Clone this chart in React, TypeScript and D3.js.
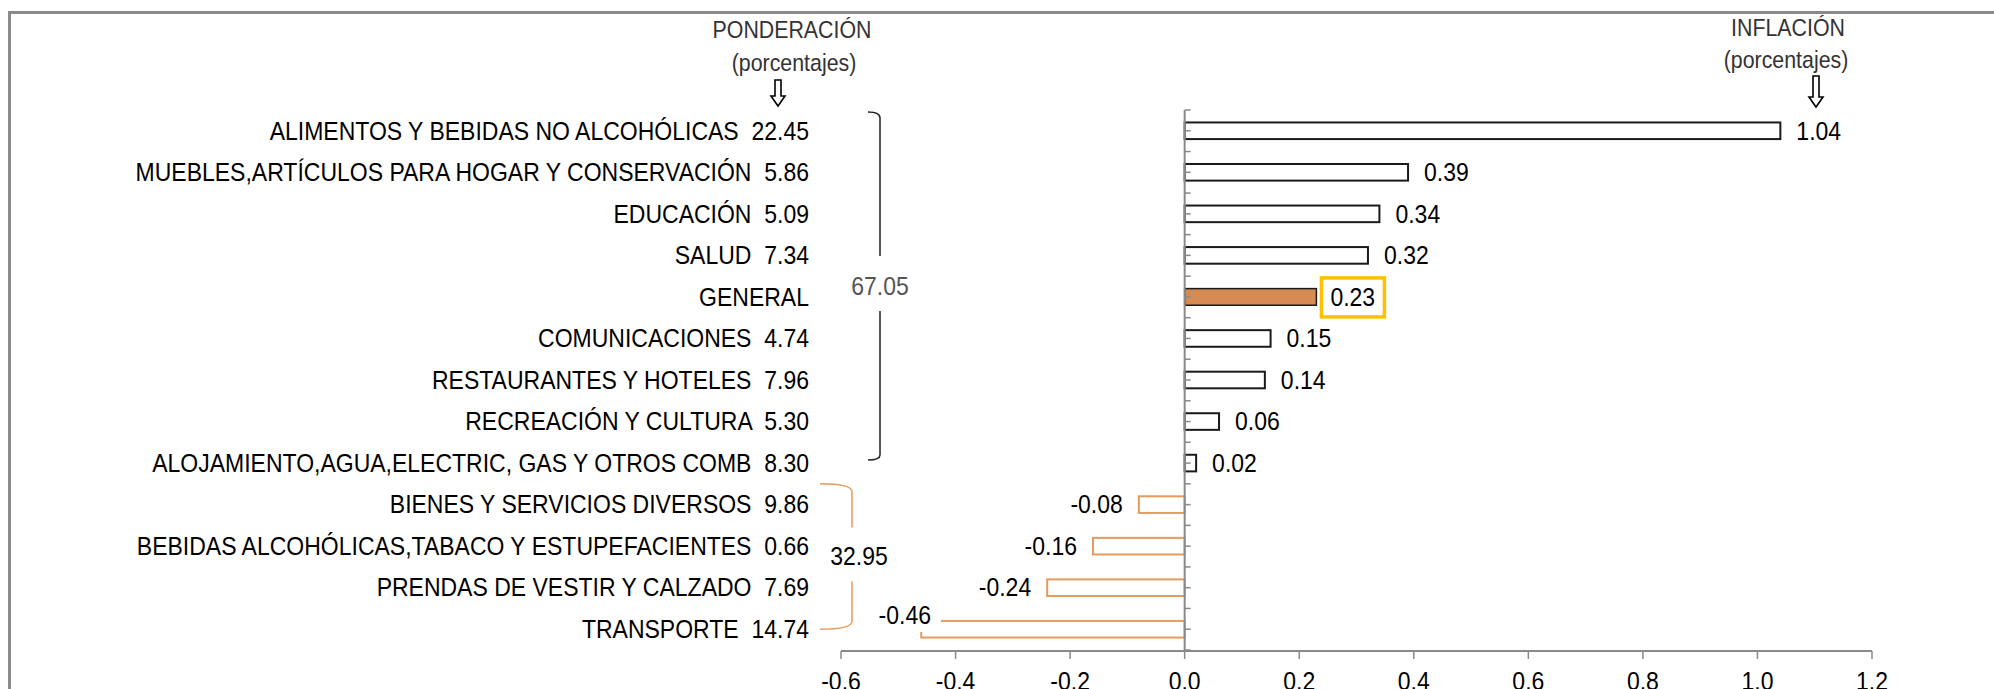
import React from "react";
import * as d3 from "d3";

const categories = [
  "ALIMENTOS Y BEBIDAS NO ALCOHÓLICAS",
  "MUEBLES,ARTÍCULOS PARA HOGAR Y CONSERVACIÓN",
  "EDUCACIÓN",
  "SALUD",
  "GENERAL",
  "COMUNICACIONES",
  "RESTAURANTES Y HOTELES",
  "RECREACIÓN Y CULTURA",
  "ALOJAMIENTO,AGUA,ELECTRIC, GAS Y OTROS COMB",
  "BIENES Y SERVICIOS DIVERSOS",
  "BEBIDAS ALCOHÓLICAS,TABACO Y ESTUPEFACIENTES",
  "PRENDAS DE VESTIR Y CALZADO",
  "TRANSPORTE",
];
const weights: (number | null)[] = [22.45, 5.86, 5.09, 7.34, null, 4.74, 7.96, 5.3, 8.3, 9.86, 0.66, 7.69, 14.74];
const inflation = [1.04, 0.39, 0.34, 0.32, 0.23, 0.15, 0.14, 0.06, 0.02, -0.08, -0.16, -0.24, -0.46];
const groupTotals = [67.05, 32.95];
const xTicks = [-0.6, -0.4, -0.2, 0.0, 0.2, 0.4, 0.6, 0.8, 1.0, 1.2];
const highlight = "GENERAL";

const FONT = "'Liberation Sans', Arial, sans-serif";
const W = 1994;
const H = 689;

type NTProps = {
  x: number;
  y: number;
  anchor?: "start" | "middle" | "end";
  size?: number;
  sx?: number;
  fill?: string;
  dy?: string;
  children: React.ReactNode;
};

function NText({ x, y, anchor = "start", size = 25, sx = 0.92, fill = "#000", dy = "0.35em", children }: NTProps) {
  return (
    <text
      transform={`translate(${x},${y}) scale(${sx},1)`}
      dy={dy}
      textAnchor={anchor}
      fontSize={size}
      fill={fill}
      style={{ whiteSpace: "pre" }}
    >
      {children}
    </text>
  );
}

export default function App() {
  const x = d3.scaleLinear().domain([-0.6, 1.2]).range([841, 1872]);
  const y = d3.scaleBand<string>().domain(categories).range([110, 650]).paddingInner(0.6).paddingOuter(0.3);
  const step = y.step();
  const bw = y.bandwidth();
  const slotTop = (c: string) => (y(c) as number) - (step - bw) / 2;
  const mid = (c: string) => (y(c) as number) + bw / 2;
  const x0 = x(0);
  const axisY = 651;

  const halfTicks: number[] = [];
  categories.forEach((c) => {
    halfTicks.push(slotTop(c));
    halfTicks.push(mid(c));
  });
  halfTicks.push(slotTop(categories[categories.length - 1]) + step);

  const bTop = slotTop(categories[0]) + 2;
  const bBot = mid(categories[8]) - 3;
  const bX = 880;
  const bMid = (bTop + bBot) / 2;
  const oTop = slotTop(categories[9]);
  const oBot = mid(categories[12]);
  const oX = 852;
  const oMid = (oTop + oBot) / 2;

  const arrow = (cx: number, top: number, bottom: number) => {
    const headH = 10;
    const sw = 3;
    const hw = 7;
    const s = bottom - headH;
    return `M${cx - sw},${top} L${cx + sw},${top} L${cx + sw},${s} L${cx + hw},${s} L${cx},${bottom} L${cx - hw},${s} L${cx - sw},${s} Z`;
  };

  return (
    <svg
      width={W}
      height={H}
      style={{ position: "fixed", left: 0, top: 0, background: "#fff" }}
      fontFamily={FONT}
    >
      <rect x={0} y={0} width={W} height={H} fill="#fff" />
      <line x1={9.5} y1={12.5} x2={W} y2={12.5} stroke="#8a8a8a" strokeWidth={3} />
      <line x1={9.5} y1={11} x2={9.5} y2={H} stroke="#8a8a8a" strokeWidth={3} />

      <NText x={792} y={30} anchor="middle" size={24} sx={0.89} fill="#333">PONDERACIÓN</NText>
      <NText x={794} y={63} anchor="middle" size={24} sx={0.89} fill="#333">(porcentajes)</NText>
      <NText x={1788} y={28} anchor="middle" size={24} sx={0.89} fill="#333">INFLACIÓN</NText>
      <NText x={1786} y={60} anchor="middle" size={24} sx={0.89} fill="#333">(porcentajes)</NText>
      <path d={arrow(778, 80, 106)} fill="#fff" stroke="#000" strokeWidth={1.6} />
      <path d={arrow(1816, 76, 107)} fill="#fff" stroke="#000" strokeWidth={1.6} />

      {categories.map((c, i) => (
        <NText key={c} x={809} y={mid(c)} anchor="end">
          {weights[i] == null ? c : `${c}  ${(weights[i] as number).toFixed(2)}`}
        </NText>
      ))}

      <path
        d={`M${bX - 12},${bTop} Q${bX},${bTop} ${bX},${bTop + 6} L${bX},${bMid - 30} M${bX},${bMid + 25} L${bX},${bBot - 5} Q${bX},${bBot} ${bX - 12},${bBot}`}
        fill="none"
        stroke="#222"
        strokeWidth={1.5}
      />
      <NText x={bX} y={bMid} anchor="middle" fill="#555">{groupTotals[0].toFixed(2)}</NText>
      <path
        d={`M${oX - 32},${oTop} Q${oX},${oTop} ${oX},${oTop + 8} L${oX},${oMid - 29} M${oX},${oMid + 25} L${oX},${oBot - 8} Q${oX},${oBot} ${oX - 32},${oBot}`}
        fill="none"
        stroke="#E59A5E"
        strokeWidth={1.5}
      />
      <NText x={oX + 7} y={oMid} anchor="middle">{groupTotals[1].toFixed(2)}</NText>

      {categories.map((c, i) => {
        const v = inflation[i];
        const neg = v < 0;
        const isHi = c === highlight;
        return (
          <rect
            key={c}
            x={Math.min(x(v), x0)}
            y={y(c) as number}
            width={Math.abs(x(v) - x0)}
            height={bw}
            fill={isHi ? "#D58B52" : "#fff"}
            stroke={neg ? "#E59A5E" : "#1a1a1a"}
            strokeWidth={isHi ? 1.5 : 2}
          />
        );
      })}

      <line x1={x0} x2={x0} y1={halfTicks[0]} y2={axisY} stroke="#8a8a8a" strokeWidth={2} />
      {halfTicks.map((t, i) => (
        <line key={i} x1={x0} x2={x0 + 6} y1={t} y2={t} stroke="#8a8a8a" strokeWidth={1.5} />
      ))}

      {categories.map((c, i) => {
        const v = inflation[i];
        const cy = mid(c);
        if (i === categories.length - 1) {
          return (
            <g key={c}>
              <rect x={872} y={597} width={69} height={35} fill="#fff" />
              <NText x={931} y={cy - 14} anchor="end">{v.toFixed(2)}</NText>
            </g>
          );
        }
        if (v < 0) {
          return (
            <NText key={c} x={x(v) - 16} y={cy} anchor="end">{v.toFixed(2)}</NText>
          );
        }
        if (c === highlight) {
          return (
            <g key={c}>
              <rect x={x(v) + 5} y={cy - 19} width={63} height={39} fill="#fff" stroke="#FFC000" strokeWidth={3.5} />
              <NText x={x(v) + 14} y={cy}>{v.toFixed(2)}</NText>
            </g>
          );
        }
        return (
          <NText key={c} x={x(v) + 16} y={cy}>{v.toFixed(2)}</NText>
        );
      })}

      <line x1={x(-0.6)} x2={x(1.2)} y1={axisY} y2={axisY} stroke="#8a8a8a" strokeWidth={2} />
      {xTicks.map((t) => (
        <g key={t}>
          <line x1={x(t)} x2={x(t)} y1={axisY} y2={axisY + 8} stroke="#8a8a8a" strokeWidth={1.5} />
          <NText x={x(t)} y={690} anchor="middle" dy="0">{t.toFixed(1)}</NText>
        </g>
      ))}
    </svg>
  );
}
